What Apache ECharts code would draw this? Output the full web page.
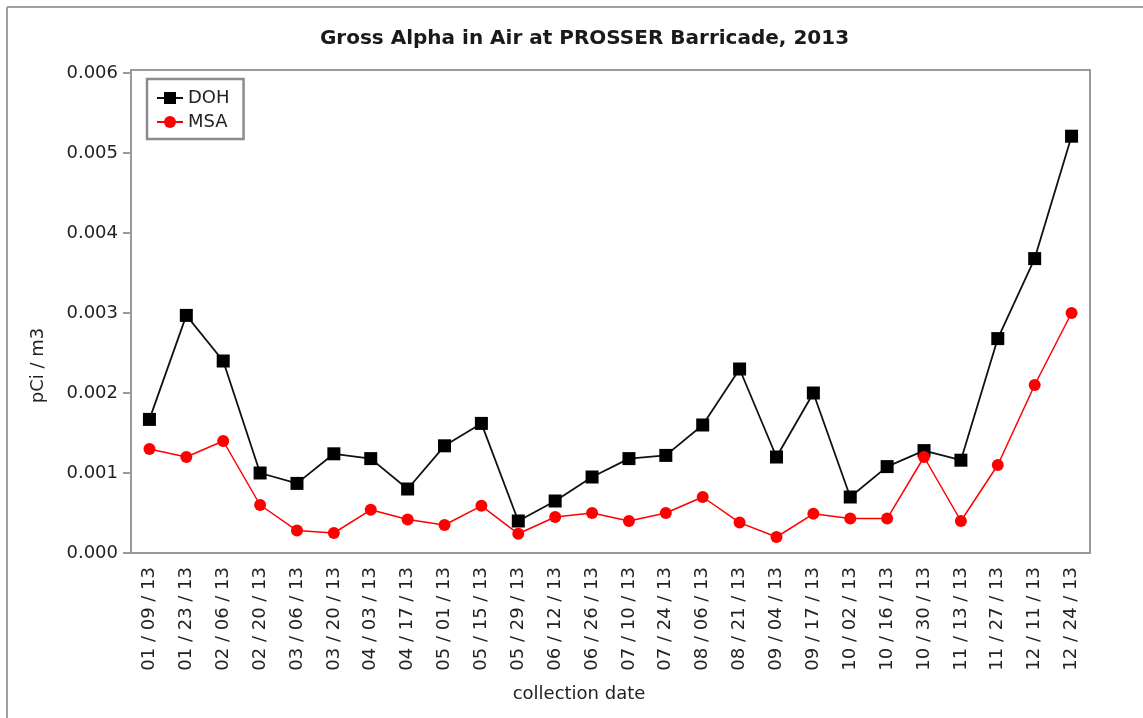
<!DOCTYPE html>
<html>
<head>
<meta charset="utf-8">
<script src="https://cdn.jsdelivr.net/npm/echarts@6/dist/echarts.min.js"></script>
<style>
html,body{margin:0;padding:0;background:#fff;}
#chart{width:1143px;height:718px;}
</style>
</head>
<body>
<div id="chart"></div>
<script>
const categories = ['01 / 09 / 13','01 / 23 / 13','02 / 06 / 13','02 / 20 / 13','03 / 06 / 13','03 / 20 / 13','04 / 03 / 13','04 / 17 / 13','05 / 01 / 13','05 / 15 / 13','05 / 29 / 13','06 / 12 / 13','06 / 26 / 13','07 / 10 / 13','07 / 24 / 13','08 / 06 / 13','08 / 21 / 13','09 / 04 / 13','09 / 17 / 13','10 / 02 / 13','10 / 16 / 13','10 / 30 / 13','11 / 13 / 13','11 / 27 / 13','12 / 11 / 13','12 / 24 / 13'];
const doh = [0.00167, 0.00297, 0.0024, 0.001, 0.00087, 0.00124, 0.00118, 0.0008, 0.00134, 0.00162, 0.0004, 0.00065, 0.00095, 0.00118, 0.00122, 0.0016, 0.0023, 0.0012, 0.002, 0.0007, 0.00108, 0.00128, 0.00116, 0.00268, 0.00368, 0.00521];
const msa = [0.0013, 0.0012, 0.0014, 0.0006, 0.00028, 0.00025, 0.00054, 0.00042, 0.00035, 0.00059, 0.00024, 0.00045, 0.0005, 0.0004, 0.0005, 0.0007, 0.00038, 0.0002, 0.00049, 0.00043, 0.00043, 0.0012, 0.0004, 0.0011, 0.0021, 0.003];
const yTicks = [0, 0.001, 0.002, 0.003, 0.004, 0.005, 0.006];
const seriesNames = ['DOH', 'MSA'];
const titleText = 'Gross Alpha in Air at PROSSER Barricade, 2013';
const xName = 'collection date';
const yName = 'pCi / m3';

const FONT = 'DejaVu Sans';
const frameColor = '#9a9a9a';
const textColor = '#222';

const chart = echarts.init(document.getElementById('chart'), null, {renderer: 'canvas'});
chart.setOption({
  animation: false,
  backgroundColor: '#fff',
  title: {
    text: titleText,
    left: 579.5,
    textAlign: 'center',
    top: 24,
    textStyle: {fontFamily: FONT, fontSize: 20, fontWeight: 'bold', color: '#1a1a1a'}
  },
  legend: {
    data: seriesNames,
    orient: 'vertical',
    left: 147,
    top: 79,
    itemWidth: 26,
    itemHeight: 15,
    itemGap: 6,
    padding: [10, 14, 8, 9],
    borderColor: '#8c8c8c',
    borderWidth: 2.5,
    textStyle: {fontFamily: FONT, fontSize: 18, color: textColor}
  },
  grid: {
    left: 131,
    top: 70,
    width: 959,
    height: 483,
    show: true,
    borderColor: frameColor,
    borderWidth: 2,
    backgroundColor: 'transparent'
  },
  xAxis: {
    type: 'category',
    data: categories,
    boundaryGap: true,
    axisLine: {lineStyle: {color: frameColor, width: 2}},
    axisTick: {alignWithLabel: true, interval: 0, length: 8, lineStyle: {color: frameColor, width: 2}},
    axisLabel: {interval: 0, rotate: 90, margin: 14, fontFamily: FONT, fontSize: 18, color: textColor},
    splitLine: {show: false}
  },
  yAxis: {
    type: 'value',
    min: 0,
    max: 0.0060375,
    interval: 0.001,
    axisLine: {show: true, lineStyle: {color: frameColor, width: 2}},
    axisTick: {show: true, length: 8, customValues: yTicks, lineStyle: {color: frameColor, width: 2}},
    axisLabel: {margin: 13, customValues: yTicks, fontFamily: FONT, fontSize: 18, color: textColor,
      formatter: v => v.toFixed(3)},
    splitLine: {show: false}
  },
  graphic: [
    {type: 'line', shape: {x1: 7, y1: 7, x2: 7, y2: 718}, style: {stroke: '#a0a0a0', lineWidth: 2}},
    {type: 'line', shape: {x1: 7, y1: 7, x2: 1143, y2: 7}, style: {stroke: '#a0a0a0', lineWidth: 2}},
    {type: 'text', x: 579, y: 694, style: {text: xName, fontFamily: FONT, fontSize: 18, fill: textColor, textAlign: 'center', textVerticalAlign: 'middle'}},
    {type: 'text', x: 38.5, y: 365.5, rotation: Math.PI / 2, style: {text: yName, fontFamily: FONT, fontSize: 18, fill: textColor, textAlign: 'center', textVerticalAlign: 'middle'}}
  ],
  series: [
    {
      name: seriesNames[0],
      type: 'line',
      data: doh,
      symbol: 'rect',
      symbolSize: 13,
      itemStyle: {color: '#000'},
      lineStyle: {color: '#111', width: 1.8}
    },
    {
      name: seriesNames[1],
      type: 'line',
      data: msa,
      symbol: 'circle',
      symbolSize: 12,
      itemStyle: {color: '#ff0000'},
      lineStyle: {color: '#ff0000', width: 1.5}
    }
  ]
});
</script>
</body>
</html>
